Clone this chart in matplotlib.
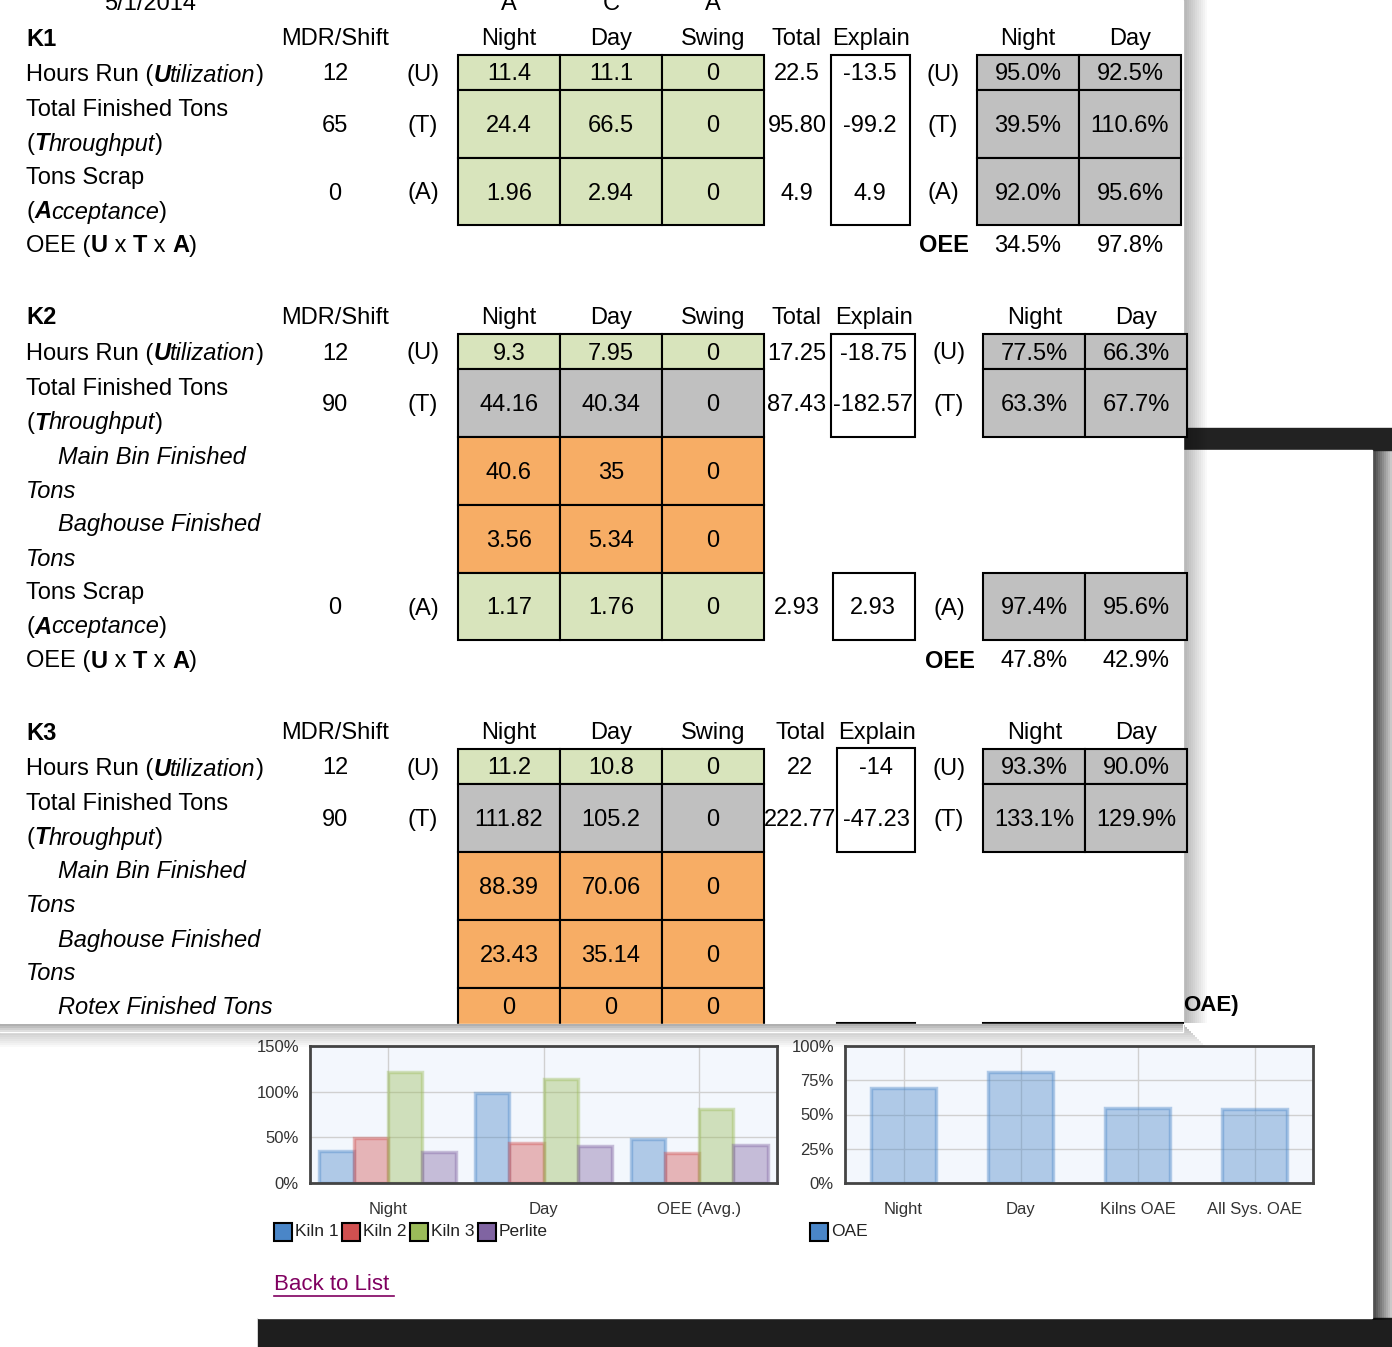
import numpy as np
import matplotlib
matplotlib.use("Agg")
import matplotlib.pyplot as plt
from matplotlib.patches import Rectangle

plt.rcParams['font.family'] = ['Liberation Sans', 'DejaVu Sans']

# ---- data ----
k1_night = ['11.4', '24.4', '1.96']
k1_day = ['11.1', '66.5', '2.94']
k1_swing = ['0', '0', '0']
k1_total = ['22.5', '95.80', '4.9']
k1_explain = ['-13.5', '-99.2', '4.9']
k1_mdr = ['12', '65', '0']
k1_pct_night = ['95.0%', '39.5%', '92.0%']
k1_pct_day = ['92.5%', '110.6%', '95.6%']
k1_oee = ['34.5%', '97.8%']

k2_night = ['9.3', '44.16', '40.6', '3.56', '1.17']
k2_day = ['7.95', '40.34', '35', '5.34', '1.76']
k2_swing = ['0', '0', '0', '0', '0']
k2_total = ['17.25', '87.43', '2.93']
k2_explain = ['-18.75', '-182.57', '2.93']
k2_mdr = ['12', '90', '0']
k2_pct_night = ['77.5%', '63.3%', '97.4%']
k2_pct_day = ['66.3%', '67.7%', '95.6%']
k2_oee = ['47.8%', '42.9%']

k3_night = ['11.2', '111.82', '88.39', '23.43', '0']
k3_day = ['10.8', '105.2', '70.06', '35.14', '0']
k3_swing = ['0', '0', '0', '0', '0']
k3_total = ['22', '222.77']
k3_explain = ['-14', '-47.23']
k3_mdr = ['12', '90']
k3_pct_night = ['93.3%', '133.1%']
k3_pct_day = ['90.0%', '129.9%']

groups = ['Night', 'Day', 'OEE (Avg.)']
kiln1 = [35, 99, 48]
kiln2 = [49, 44, 33]
kiln3 = [122, 114, 81]
perlite = [34, 41, 42]
oae_cats = ['Night', 'Day', 'Kilns OAE', 'All Sys. OAE']
oae_vals = [69, 81, 55, 54]

W, H = 1392, 1347
fig = plt.figure(figsize=(W / 100, H / 100), dpi=100)
bg = fig.add_axes([0, 0, 1, 1])
bg.set_xlim(0, W); bg.set_ylim(H, 0); bg.axis('off')

# bottom window + shadow
bg.add_patch(Rectangle((258, 1318), 1134, 29, color='#1e1e1e'))
for k in range(10):
    bg.add_patch(Rectangle((1372 + 2 * k, 440), 2, 880, color='black', alpha=0.75 - 0.06 * k, lw=0))
bg.add_patch(Rectangle((1183, 428), 209, 22, color='#222222'))
bg.add_patch(Rectangle((258, 450), 1114, 868, color='white'))
bg.text(1183, 1005, 'OAE)', fontsize=16, fontweight='bold', va='center')
bg.text(274, 1284, 'Back to List', fontsize=16, color='#800060', va='center')
bg.plot([274, 394], [1296, 1296], color='#800060', lw=1.2)

cols = {'Kiln 1': '#4a86c8', 'Kiln 2': '#d05050', 'Kiln 3': '#9bbb59', 'Perlite': '#8064a2', 'OAE': '#4a86c8'}


def px_axes(x0, y0, x1, y1):
    return fig.add_axes([x0 / W, 1 - y1 / H, (x1 - x0) / W, (y1 - y0) / H])


def style(ax, ticks):
    ax.set_facecolor('#f3f7fd')
    for s in ax.spines.values():
        s.set_color('#444444'); s.set_linewidth(2)
    ax.grid(True, color='#d0d0d0', lw=1)
    ax.set_axisbelow(True)
    ax.set_yticks(ticks)
    ax.set_yticklabels([f'{t}%' for t in ticks], fontsize=12, color='#333333')
    ax.tick_params(length=0, pad=8)
    for lab in ax.get_xticklabels():
        lab.set_fontsize(12); lab.set_color('#333333')


ax1 = px_axes(310, 1046, 777, 1183)
x = np.arange(len(groups))
bw = 0.22
for i, (name, vals) in enumerate([('Kiln 1', kiln1), ('Kiln 2', kiln2), ('Kiln 3', kiln3), ('Perlite', perlite)]):
    c = cols[name]
    ax1.bar(x + (i - 1.5) * bw, vals, bw, color=c, alpha=0.4, edgecolor=c, lw=2.5)
ax1.set_xlim(-0.5, 2.5); ax1.set_ylim(0, 150)
ax1.set_xticks(x); ax1.set_xticklabels(groups)
style(ax1, [0, 50, 100, 150])
ax1.tick_params(axis='x', pad=14)

ax2 = px_axes(845, 1046, 1313, 1183)
x2 = np.arange(len(oae_cats))
ax2.bar(x2, oae_vals, 0.56, color=cols['OAE'], alpha=0.4, edgecolor=cols['OAE'], lw=2.5)
ax2.set_xlim(-0.5, 3.5); ax2.set_ylim(0, 100)
ax2.set_xticks(x2); ax2.set_xticklabels(oae_cats)
style(ax2, [0, 25, 50, 75, 100])
ax2.tick_params(axis='x', pad=14)

for i, name in enumerate(['Kiln 1', 'Kiln 2', 'Kiln 3', 'Perlite']):
    lx = 274 + i * 68
    bg.add_patch(Rectangle((lx, 1223), 18, 18, facecolor=cols[name], edgecolor='black', lw=1.5))
    bg.text(lx + 21, 1232, name, fontsize=12.5, va='center', color='#222222')
bg.add_patch(Rectangle((810, 1223), 18, 18, facecolor=cols['OAE'], edgecolor='black', lw=1.5))
bg.text(831, 1232, 'OAE', fontsize=12.5, va='center', color='#222222')

# top window
top = fig.add_axes([0, 0, 1, 1])
top.set_xlim(0, W); top.set_ylim(H, 0); top.axis('off'); top.patch.set_alpha(0)
for k in range(12):
    a = 0.3 * (1 - k / 12)
    top.add_patch(Rectangle((1183 + 2 * k, 0), 2, 1023, color='black', alpha=a, lw=0))
    top.add_patch(Rectangle((0, 1023 + 2 * k), 1183 + 2 * k, 2, color='black', alpha=a, lw=0))
top.add_patch(Rectangle((0, 0), 1183, 1023, color='white'))

FS = 17
GREEN, GRAY, ORANGE = '#d8e4bc', '#c0c0c0', '#f7ad65'
rend = fig.canvas.get_renderer()


def rich(x0, y, parts):
    # parts: list of (text, weight, style)
    for s, w, st in parts:
        t = top.text(x0, y + 2, s, fontsize=FS, fontweight=w, style=st, va='center')
        bb = t.get_window_extent(rend)
        x0 += bb.width


def cell(x0, x1, y0, y1, fc, txt):
    top.add_patch(Rectangle((x0, y0), x1 - x0, y1 - y0, facecolor=fc, edgecolor='black', lw=1.5))
    if txt is not None:
        top.text((x0 + x1) / 2, (y0 + y1) / 2 + 2, txt, fontsize=FS, ha='center', va='center')


def ctext(x, y, s, **kw):
    top.text(x, y + 2, s, fontsize=FS, ha='center', va='center', **kw)


def ltext(x, y, s, **kw):
    top.text(x, y + 2, s, fontsize=FS, va='center', **kw)


N = 'normal'
U_lab = [('Hours Run (', N, N), ('U', 'bold', 'italic'), ('tilization', N, 'italic'), (')', N, N)]
T_lab2 = [('(', N, N), ('T', 'bold', 'italic'), ('hroughput', N, 'italic'), (')', N, N)]
A_lab2 = [('(', N, N), ('A', 'bold', 'italic'), ('cceptance', N, 'italic'), (')', N, N)]
OEE_lab = [('OEE (', N, N), ('U', 'bold', N), (' x ', N, N), ('T', 'bold', N), (' x ', N, N), ('A', 'bold', N), (')', N, N)]


def header(y, name, xs):
    top.text(26, y + 2, name, fontsize=FS, fontweight='bold', va='center')
    ctext(335, y, 'MDR/Shift')
    for s, xx in zip(['Night', 'Day', 'Swing', 'Total', 'Explain', 'Night', 'Day'], xs):
        ctext(xx, y, s)


ctext(150, 2, '5/1/2014')
for s, xx in zip(['A', 'C', 'A'], [509, 611, 713]):
    ctext(xx, 2, s)

# ---------- K1 ----------
header(37, 'K1', [509, 611, 713, 797, 871, 1028, 1130])
rows1 = [(55, 90), (90, 158), (158, 225)]
rich(26, 73, U_lab)
ltext(26, 108, 'Total Finished Tons')
rich(26, 142, T_lab2)
ltext(26, 176, 'Tons Scrap')
rich(26, 210, A_lab2)
rich(26, 244, OEE_lab)
for i, (y0, y1) in enumerate(rows1):
    yc = (y0 + y1) / 2
    ctext(335, yc, k1_mdr[i]); ctext(423, yc, ['(U)', '(T)', '(A)'][i])
    cell(458, 560, y0, y1, GREEN, k1_night[i])
    cell(560, 662, y0, y1, GREEN, k1_day[i])
    cell(662, 764, y0, y1, GREEN, k1_swing[i])
    ctext(797, yc, k1_total[i]); ctext(870, yc, k1_explain[i])
    ctext(943, yc, ['(U)', '(T)', '(A)'][i])
    cell(977, 1079, y0, y1, GRAY, k1_pct_night[i])
    cell(1079, 1181, y0, y1, GRAY, k1_pct_day[i])
top.add_patch(Rectangle((831, 55), 79, 170, fill=False, edgecolor='black', lw=1.5))
top.text(944, 246, 'OEE', fontsize=FS, fontweight='bold', ha='center', va='center')
ctext(1028, 244, k1_oee[0]); ctext(1130, 244, k1_oee[1])

# ---------- K2 ----------
header(316, 'K2', [509, 611, 713, 797, 874, 1035, 1136])
rich(26, 352, U_lab)
ltext(26, 387, 'Total Finished Tons')
rich(26, 421, T_lab2)
ltext(58, 455, 'Main Bin Finished', style='italic')
ltext(26, 489, 'Tons', style='italic')
ltext(58, 523, 'Baghouse Finished', style='italic')
ltext(26, 557, 'Tons', style='italic')
ltext(26, 591, 'Tons Scrap')
rich(26, 625, A_lab2)
rich(26, 659, OEE_lab)
rows2 = [(334, 369), (369, 437), (437, 505), (505, 573), (573, 640)]
fills2 = [GREEN, GRAY, ORANGE, ORANGE, GREEN]
for i, (y0, y1) in enumerate(rows2):
    cell(458, 560, y0, y1, fills2[i], k2_night[i])
    cell(560, 662, y0, y1, fills2[i], k2_day[i])
    cell(662, 764, y0, y1, fills2[i], k2_swing[i])
for j, i in enumerate([0, 1, 4]):
    y0, y1 = rows2[i]
    yc = (y0 + y1) / 2
    ctext(335, yc, k2_mdr[j]); ctext(423, yc, ['(U)', '(T)', '(A)'][j])
    ctext(797, yc, k2_total[j]); ctext(873, yc, k2_explain[j])
    ctext(949, yc, ['(U)', '(T)', '(A)'][j])
    cell(983, 1085, y0, y1, GRAY, k2_pct_night[j])
    cell(1085, 1187, y0, y1, GRAY, k2_pct_day[j])
top.add_patch(Rectangle((831, 334), 84, 103, fill=False, edgecolor='black', lw=1.5))
top.add_patch(Rectangle((833, 573), 82, 67, fill=False, edgecolor='black', lw=1.5))
top.text(950, 661, 'OEE', fontsize=FS, fontweight='bold', ha='center', va='center')
ctext(1034, 659, k2_oee[0]); ctext(1136, 659, k2_oee[1])

# ---------- K3 ----------
header(731, 'K3', [509, 611, 713, 800, 877, 1035, 1136])
rich(26, 767, U_lab)
ltext(26, 802, 'Total Finished Tons')
rich(26, 836, T_lab2)
ltext(58, 870, 'Main Bin Finished', style='italic')
ltext(26, 904, 'Tons', style='italic')
ltext(58, 938, 'Baghouse Finished', style='italic')
ltext(26, 972, 'Tons', style='italic')
ltext(58, 1006, 'Rotex Finished Tons', style='italic')
rows3 = [(749, 784), (784, 852), (852, 920), (920, 988), (988, 1030)]
fills3 = [GREEN, GRAY, ORANGE, ORANGE, ORANGE]
for i, (y0, y1) in enumerate(rows3):
    cell(458, 560, y0, y1, fills3[i], None)
    cell(560, 662, y0, y1, fills3[i], None)
    cell(662, 764, y0, y1, fills3[i], None)
    yc = (y0 + 1023) / 2 if i == 4 else (y0 + y1) / 2
    ctext(509, yc, k3_night[i]); ctext(611, yc, k3_day[i]); ctext(713, yc, k3_swing[i])
for j in range(2):
    y0, y1 = rows3[j]
    yc = (y0 + y1) / 2
    ctext(335, yc, k3_mdr[j]); ctext(423, yc, ['(U)', '(T)'][j])
    ctext(800, yc, k3_total[j]); ctext(876, yc, k3_explain[j])
    ctext(949, yc, ['(U)', '(T)'][j])
    cell(983, 1085, y0, y1, GRAY, k3_pct_night[j])
    cell(1085, 1187, y0, y1, GRAY, k3_pct_day[j])
top.add_patch(Rectangle((837, 748), 78, 104, fill=False, edgecolor='black', lw=1.5))
top.plot([837, 915], [1023, 1023], color='black', lw=1.5)
top.plot([983, 1183], [1023, 1023], color='black', lw=1.5)
# clip table at window edge (cover overflow with the shadow)
top.add_patch(Rectangle((0, 1024), 1183, 8, color='white', zorder=5))
for k in range(4):
    top.add_patch(Rectangle((0, 1024 + 2 * k), 1183, 2, color='#b0b0b0', alpha=1 - 0.2 * k, lw=0, zorder=6))

fig.savefig('out.png', dpi=100)
